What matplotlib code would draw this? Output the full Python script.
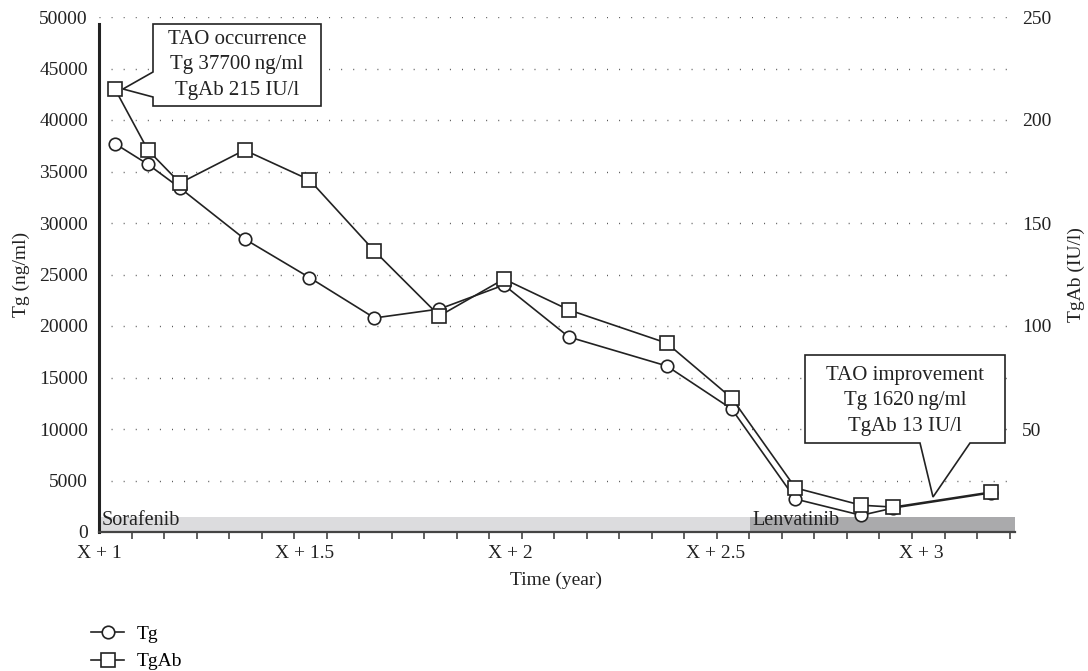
import matplotlib
matplotlib.use("Agg")
import matplotlib.pyplot as plt
from matplotlib.lines import Line2D
from matplotlib.patches import Polygon

plt.rcParams["font.family"] = ["Liberation Serif", "DejaVu Serif"]

# ===== data =====
years = [1.039, 1.119, 1.197, 1.354, 1.512, 1.670, 1.828, 1.985, 2.143,
         2.381, 2.539, 2.694, 2.854, 2.932, 3.170]
tg = [37700, 35700, 33400, 28450, 24700, 20780, 21650, 23980, 18930,
      16120, 11940, 3200, 1620, 2330, 3800]
tgab = [215, 185.4, 169.4, 185.4, 170.9, 136.4, 104.9, 122.8, 107.8,
        91.7, 65.0, 21.4, 13, 12.1, 19.4]

drugs = ["Sorafenib", "Lenvatinib"]
drug_start = [1.0, 2.583]
drug_end = [2.583, 3.228]
drug_colors = ["#dcdcde", "#aaaaac"]

xtick_pos = [1.0, 1.5, 2.0, 2.5, 3.0]
xtick_labels = ["X + 1", "X + 1.5", "X + 2", "X + 2.5", "X + 3"]

note_top = "TAO occurrence\nTg 37700\u2009ng/ml\nTgAb 215 IU/l"
note_bottom = "TAO improvement\nTg 1620\u2009ng/ml\nTgAb 13 IU/l"

# ===== figure =====
W, H = 1088, 671
fig = plt.figure(figsize=(W / 100, H / 100), dpi=100)
AX_L, AX_R, AX_B, AX_T = 99, 1015, 532, 17
ax = fig.add_axes([AX_L / W, 1 - AX_B / H, (AX_R - AX_L) / W, (AX_B - AX_T) / H])
ax2 = ax.twinx()

ink = "#222222"
fs = 14

ax.set_xlim(1.0, 3.228)
ax.set_ylim(0, 50000)
ax2.set_ylim(0, 250)

# treatment bars
for name, s, e, c in zip(drugs, drug_start, drug_end, drug_colors):
    ax.bar(s, 1500, width=e - s, align="edge", color=c, edgecolor="none", zorder=1)
    ax.text(s + 0.006, 150, name, fontsize=fs + 0.5, color=ink, va="bottom", ha="left", zorder=2)

# grid
ax.set_yticks(range(0, 50001, 5000))
ax.yaxis.grid(True, linestyle=(0, (0.7, 8)), color="#555555", linewidth=1.0)
ax.set_axisbelow(True)

# lines
ax.plot(years, tg, color=ink, lw=1.2, marker="o", markersize=9,
        markerfacecolor="white", markeredgecolor=ink, markeredgewidth=1.2, zorder=3)
ax2.plot(years, tgab, color=ink, lw=1.2, marker="s", markersize=9.5,
         markerfacecolor="white", markeredgecolor=ink, markeredgewidth=1.2, zorder=3)

# axes styling
for a in (ax, ax2):
    for sp in ("top", "right"):
        a.spines[sp].set_visible(False)
ax2.spines["left"].set_visible(False)
ax2.spines["bottom"].set_visible(False)
ax.spines["left"].set_linewidth(2.2)
ax.spines["left"].set_color(ink)
ax.spines["left"].set_bounds(0, 49300)
ax.spines["bottom"].set_linewidth(1.6)
ax.spines["bottom"].set_color("#444444")

ax.set_xticks(xtick_pos)
ax.set_xticklabels(xtick_labels)
ax.set_xticks([1.0 + k * 0.0791 for k in range(29)], minor=True)
ax.tick_params(axis="x", which="major", length=0, pad=9, labelsize=fs, labelcolor=ink)
ax.tick_params(axis="x", which="minor", length=5, width=1.2, color="#444444", direction="out")
ax.tick_params(axis="y", length=0, pad=8, labelsize=fs, labelcolor=ink)

ax2.set_yticks([50, 100, 150, 200, 250])
ax2.tick_params(axis="y", length=0, pad=5, labelsize=fs, labelcolor=ink)

ax.set_xlabel("Time (year)", fontsize=fs, color=ink)
ax.xaxis.set_label_coords(0.499, -0.078)
ax.set_ylabel("Tg (ng/ml)", fontsize=fs, color=ink)
ax.yaxis.set_label_coords(-0.075, 0.5)
ax2.set_ylabel("TgAb (IU/l)", fontsize=fs, color=ink)
ax2.yaxis.set_label_coords(1.058, 0.5)


# ===== callouts =====
def px(x, y):
    return ((x - AX_L) / (AX_R - AX_L), (AX_B - y) / (AX_B - AX_T))


top_shape = [(153, 24), (321, 24), (321, 106), (153, 106), (153, 97), (123, 89), (153, 72)]
bot_shape = [(805, 355), (1005, 355), (1005, 443), (970, 443), (933, 497), (920, 443), (805, 443)]
for shape, txt, cx, cy in [(top_shape, note_top, 237, 65), (bot_shape, note_bottom, 905, 401)]:
    poly = Polygon([px(x, y) for x, y in shape], closed=True, transform=ax2.transAxes,
                   facecolor="white", edgecolor=ink, linewidth=1.2, zorder=5, clip_on=False)
    ax2.add_patch(poly)
    tx, ty = px(cx, cy)
    ax2.text(tx, ty, txt, transform=ax2.transAxes, ha="center", va="center",
             fontsize=fs + 1, color=ink, linespacing=1.45, zorder=6)

# ===== legend =====
handles = [
    Line2D([], [], color=ink, lw=1.2, marker="o", markersize=9,
           markerfacecolor="white", markeredgecolor=ink, markeredgewidth=1.2),
    Line2D([], [], color=ink, lw=1.2, marker="s", markersize=9.5,
           markerfacecolor="white", markeredgecolor=ink, markeredgewidth=1.2),
]
fig.legend(handles, ["Tg", "TgAb"], loc="upper left", bbox_to_anchor=(0.084, 0.068),
           frameon=False, fontsize=fs, handlelength=1.7, handletextpad=0.65,
           labelspacing=0.5, borderaxespad=0, borderpad=0)

fig.savefig("out.png", dpi=100)
